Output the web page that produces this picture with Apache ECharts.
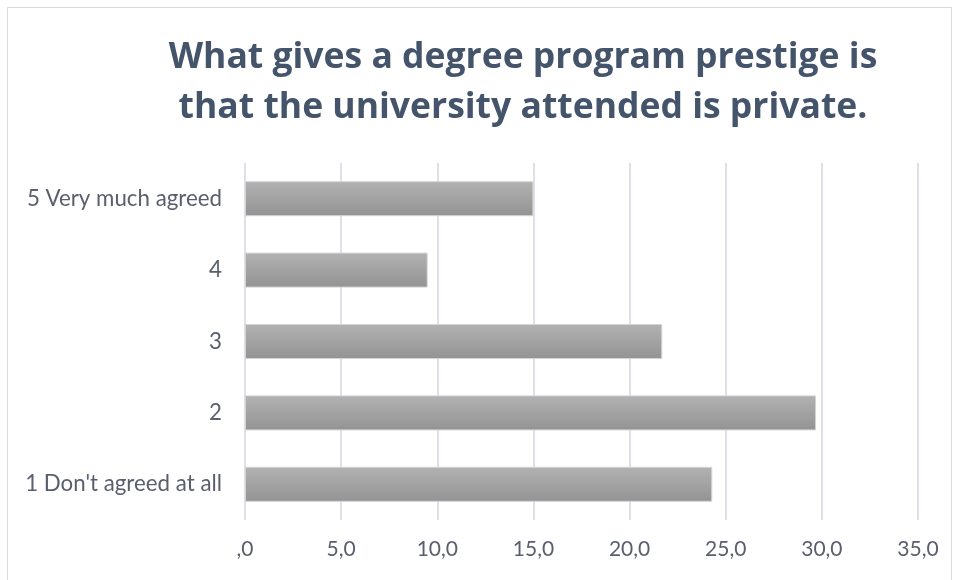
<!DOCTYPE html>
<html>
<head>
<meta charset="utf-8">
<script src="https://cdn.jsdelivr.net/npm/echarts@6/dist/echarts.min.js"></script>
<style>
  html, body { margin: 0; padding: 0; background: #ffffff; }
  #chart { width: 958px; height: 580px; }
</style>
</head>
<body>
<div id="chart"></div>
<script>
// Survey responses (percent), bottom to top on the category axis
const categories = ["1 Don't agreed at all", '2', '3', '4', '5 Very much agreed'];
const percentages = [24.3, 29.7, 21.7, 9.5, 15.0];
const tickLabels = [',0', '5,0', '10,0', '15,0', '20,0', '25,0', '30,0', '35,0'];
const titleLines = ['What gives a degree program prestige is', 'that the university attended is private.'];

const textColor = '#44546a';
const labelColor = '#595f6e';

const chart = echarts.init(document.getElementById('chart'));
chart.setOption({
  backgroundColor: '#ffffff',
  animation: false,
  graphic: [{
    type: 'rect',
    shape: { x: 7.5, y: 7.5, width: 944, height: 580 },
    style: { fill: 'none', stroke: '#d9d9d9', lineWidth: 1 },
    silent: true
  }, {
    // two-line chart title, centred over the plot area
    type: 'text',
    x: 523,
    y: 33,
    silent: true,
    style: {
      text: titleLines.join('\n'),
      align: 'center',
      verticalAlign: 'top',
      fontFamily: 'Open Sans',
      fontWeight: 'bold',
      fontSize: 35.5,
      lineHeight: 50,
      fill: textColor
    }
  }],
  grid: { left: 245, right: 40, top: 163, bottom: 60, containLabel: false },
  xAxis: {
    type: 'value',
    min: 0,
    max: 35,
    interval: 5,
    axisLine: { show: false },
    axisTick: { show: false },
    splitLine: { lineStyle: { color: '#dde0e8', width: 2 } },
    axisLabel: {
      margin: 19,
      fontFamily: 'Lato',
      fontSize: 21,
      color: labelColor,
      formatter: v => tickLabels[Math.round(v / 5)]
    }
  },
  yAxis: {
    type: 'category',
    data: categories,
    axisLine: { show: false },
    axisTick: { show: false },
    axisLabel: {
      margin: 23,
      fontFamily: 'Lato',
      fontSize: 22.3,
      color: labelColor
    }
  },
  series: [{
    type: 'bar',
    data: percentages,
    barWidth: 35,
    itemStyle: {
      color: new echarts.graphic.LinearGradient(0, 0, 0, 1, [
        { offset: 0, color: '#b2b2b2' },
        { offset: 1, color: '#939393' }
      ]),
      borderColor: '#d4d4d4',
      borderWidth: 1
    }
  }]
});
</script>
</body>
</html>
